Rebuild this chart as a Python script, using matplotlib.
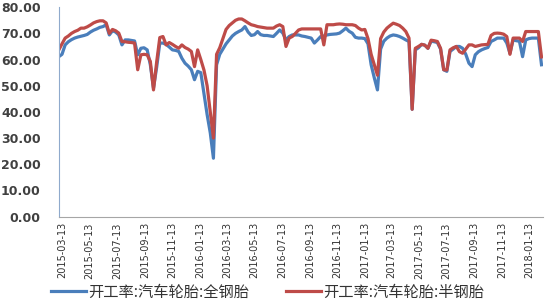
import matplotlib
matplotlib.use("Agg")
import matplotlib.pyplot as plt
import pandas as pd

# weekly readings, first week 2015-03-06
start_date = "2015-03-06"
all_steel = [
    61.1, 62.0, 65.6, 66.8, 67.6, 68.2, 68.6, 68.9, 69.2, 69.6,
    70.5, 71.2, 71.7, 72.3, 72.6, 73.3, 69.4, 71.0, 70.5, 69.4,
    65.6, 67.5, 67.5, 67.3, 67.1, 61.8, 64.3, 64.5, 63.7, 58.0,
    49.1, 57.0, 66.3, 66.3, 65.8, 64.8, 63.7, 63.5, 63.1, 60.5,
    58.6, 57.5, 56.1, 52.3, 55.5, 55.0, 47.0, 39.0, 32.0, 22.3,
    58.0, 62.0, 64.0, 66.0, 67.5, 69.0, 70.0, 70.7, 71.3, 72.6,
    70.5, 69.2, 69.5, 70.7, 69.5, 69.2, 69.2, 69.0, 68.8, 70.0,
    71.3, 70.1, 67.5, 68.8, 69.4, 69.4, 69.4, 69.0, 68.8, 68.5,
    68.2, 66.3, 67.5, 68.8, 69.0, 69.4, 69.6, 69.7, 69.8, 70.1,
    71.0, 72.0, 70.8, 70.1, 68.5, 68.2, 68.2, 68.0, 66.0, 58.0,
    53.0, 48.4, 64.0, 67.0, 68.2, 69.0, 69.4, 69.2, 68.8, 68.2,
    67.5, 66.9, 41.0, 63.7, 64.5, 65.8, 65.5, 64.3, 67.0, 66.8,
    66.5, 64.0, 56.1, 55.5, 63.1, 64.0, 65.0, 65.0, 64.3, 62.0,
    58.6, 57.3, 61.8, 63.0, 63.7, 64.2, 64.6, 66.9, 67.5, 68.2,
    68.2, 68.2, 66.3, 62.4, 67.5, 67.2, 67.0, 61.1, 67.5, 68.0,
    68.2, 68.2, 68.2, 58.0,
]
semi_steel = [
    63.7, 66.0, 68.2, 69.0, 70.0, 70.7, 71.2, 72.0, 72.0, 72.5,
    73.2, 74.0, 74.5, 74.8, 74.8, 74.0, 70.0, 71.5, 71.0, 70.1,
    66.9, 66.8, 66.6, 66.5, 66.3, 56.1, 61.8, 62.0, 61.8, 59.3,
    48.4, 59.0, 68.4, 68.8, 65.6, 66.5, 65.8, 65.0, 64.3, 65.6,
    64.6, 64.0, 63.1, 57.3, 63.7, 60.0, 56.0, 50.0, 40.0, 30.0,
    62.0, 64.5, 68.0, 71.5, 73.0, 74.0, 75.0, 75.5, 75.5, 74.8,
    74.0, 73.3, 73.0, 72.6, 72.4, 72.2, 72.0, 72.0, 72.0, 72.8,
    73.3, 72.6, 65.0, 68.2, 68.8, 70.0, 71.3, 71.7, 71.7, 71.7,
    71.7, 71.7, 71.7, 71.7, 65.6, 73.3, 73.3, 73.3, 73.5, 73.6,
    73.5, 73.3, 73.3, 73.3, 73.0, 72.0, 71.3, 71.5, 68.0, 62.0,
    58.0, 54.0, 68.0, 70.5, 72.0, 73.0, 73.9, 73.5, 73.0, 72.0,
    70.7, 68.2, 41.0, 64.3, 65.0, 65.8, 65.5, 64.3, 67.4, 67.2,
    66.9, 64.3, 56.1, 56.0, 63.7, 64.5, 65.0, 63.0, 62.4, 64.0,
    65.6, 65.6, 65.0, 65.3, 65.6, 65.7, 65.8, 69.2, 70.0, 70.1,
    70.0, 69.7, 68.8, 62.0, 68.2, 68.2, 68.2, 66.9, 70.7, 70.7,
    70.7, 70.7, 70.7, 61.0,
]
tick_labels = [
    "2015-03-13", "2015-05-13", "2015-07-13", "2015-09-13", "2015-11-13",
    "2016-01-13", "2016-03-13", "2016-05-13", "2016-07-13", "2016-09-13",
    "2016-11-13", "2017-01-13", "2017-03-13", "2017-05-13", "2017-07-13",
    "2017-09-13", "2017-11-13", "2018-01-13",
]
series_names = ["开工率:汽车轮胎:全钢胎", "开工率:汽车轮胎:半钢胎"]

dates = pd.date_range(start_date, periods=len(all_steel), freq="7D")

fig = plt.figure(figsize=(5.5, 3), dpi=100)
ax = fig.add_axes([0.107, 0.278, 0.88, 0.698])

ax.plot(dates, all_steel, color="#4A7EBB", lw=2.3, label=series_names[0])
ax.plot(dates, semi_steel, color="#BE4B48", lw=2.3, label=series_names[1])

ax.set_ylim(0, 80)
ax.set_yticks(range(0, 81, 10))
ax.set_yticklabels([f"{v:.2f}" for v in range(0, 81, 10)],
                   fontsize=9, color="#404040", fontweight="bold")
ax.set_xlim(pd.Timestamp("2015-03-06"), pd.Timestamp("2018-02-12"))
ax.set_xticks(pd.to_datetime(tick_labels))
ax.set_xticklabels(tick_labels, rotation=90, fontsize=7, color="#333333",
                   family=["Liberation Sans Narrow", "DejaVu Sans"])
ax.tick_params(axis="both", length=0)
ax.tick_params(axis="y", pad=13)
ax.tick_params(axis="x", pad=4)

for side in ["top", "right"]:
    ax.spines[side].set_visible(False)
ax.spines["left"].set_color("#8FAACC")
ax.spines["bottom"].set_color("#A6A6A6")

fig.legend(loc="center", bbox_to_anchor=(0.486, 0.026), ncol=2, frameon=False,
           prop={"family": ["Noto Sans CJK SC", "DejaVu Sans"], "size": 11},
           handlelength=2.3, columnspacing=2.4, handletextpad=0.15,
           labelcolor="#333333", borderpad=0, borderaxespad=0)

fig.savefig("out.png", dpi=100)
